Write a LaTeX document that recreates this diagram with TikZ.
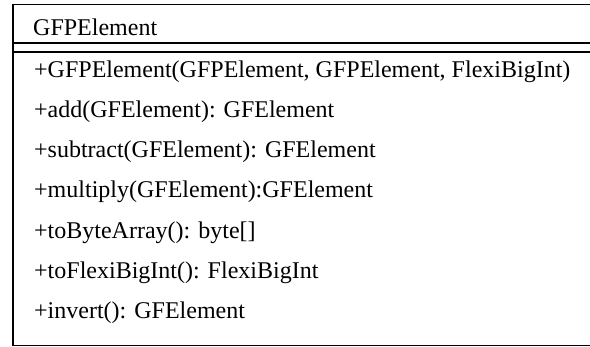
\documentclass[tikz,border=0pt]{standalone}
\usepackage{fontspec}
\setmainfont{Liberation Serif}
\begin{document}
\begin{tikzpicture}[x=1pt,y=1pt,
  frame/.style={line width=1.8pt,draw=black},
  member/.style={anchor=base west,inner sep=0pt,font=\fontsize{24}{28}\selectfont}]
\useasboundingbox (0,0) rectangle (590,347);
\clip (0,0) rectangle (590,347);
% class box (open on the right side)
\coordinate (tl) at (13,342.5);
\coordinate (br) at (600,1.5);
\draw[frame] (tl) rectangle (br);
% double separator below the class name
\draw[frame] (13,304) -- (600,304);
\draw[frame] (13,295) -- (600,295);
% class name
\node[member] (name) at (33,311) {GFPElement};
% operations
\node[member] (op1) at (34,269) {+GFPElement(GFPElement, GFPElement, FlexiBigInt)};
\node[member] (op2) at (34,229) {+add(GFElement): GFElement};
\node[member] (op3) at (34,189) {+subtract(GFElement): GFElement};
\node[member] (op4) at (34,149) {+multiply(GFElement):GFElement};
\node[member] (op5) at (34,108) {+toByteArray(): byte[]};
\node[member] (op6) at (34,68) {+toFlexiBigInt(): FlexiBigInt};
\node[member] (op7) at (34,28) {+invert(): GFElement};
\end{tikzpicture}
\end{document}
